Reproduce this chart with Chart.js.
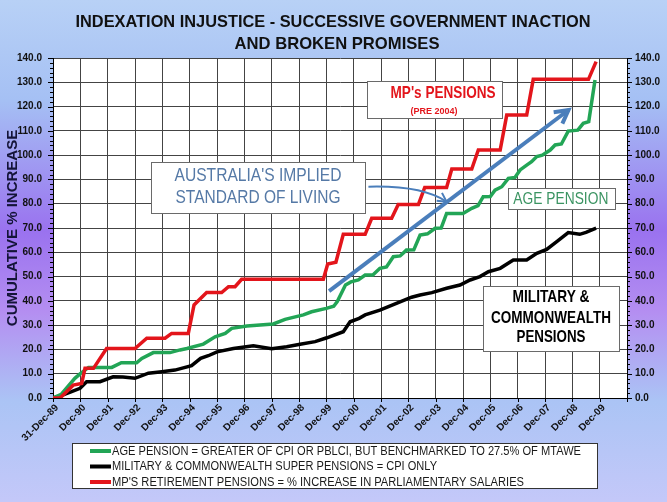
<!DOCTYPE html>
<html>
<head>
<meta charset="utf-8">
<script src="https://cdn.jsdelivr.net/npm/chart.js@4.4.0/dist/chart.umd.min.js"></script>
<style>
  html, body { margin: 0; padding: 0; }
  #wrap {
    width: 667px;
    height: 502px;
    position: relative;
    background: linear-gradient(to bottom, #b8d1f6 0%, #a5c0f4 20%, #9a72ef 46%, #b48ef1 62%, #abc4f5 80%, #c4c8f9 100%);
  }
</style>
</head>
<body>
<div id="wrap"><canvas id="chart"></canvas></div>
<script>
// years since 31-Dec-89 and cumulative % increase
const ageT = [0, 0.3, 0.8, 1.0, 1.3, 2.15, 2.5, 3.06, 3.25, 3.67, 4.28, 4.65, 4.9, 5.5, 5.93, 6.3, 6.54, 7.09, 8.06, 8.49, 9.16, 9.46, 10.0, 10.27, 10.4, 10.7, 10.9, 11.17, 11.42, 11.7, 11.96, 12.2, 12.45, 12.7, 12.93, 13.2, 13.43, 13.7, 13.98, 14.2, 14.4, 15.0, 15.32, 15.55, 15.74, 16.0, 16.17, 16.42, 16.66, 16.9, 17.09, 17.33, 17.51, 17.7, 17.9, 18.19, 18.37, 18.6, 18.85, 19.2, 19.4, 19.6, 19.83];
const ageValues = [0, 1.5, 8.1, 10, 12.6, 12.6, 14.5, 14.5, 16.3, 18.7, 18.7, 19.8, 20.4, 22.2, 25.2, 26.6, 28.7, 29.6, 30.5, 32.4, 34.2, 35.5, 36.9, 37.8, 39.7, 46.5, 47.8, 48.6, 50.6, 50.6, 53.4, 54, 58.2, 58.5, 60.9, 61, 67.1, 67.6, 69.9, 70, 76, 76, 78.1, 79.2, 82.9, 83, 85.6, 87, 90.4, 90.8, 93.9, 95.9, 97.3, 99.4, 100, 102.1, 104.2, 104.6, 109.9, 110.3, 113.1, 113.8, 130.9];

const milT = [0, 0.3, 0.68, 0.99, 1.23, 1.72, 2.2, 2.56, 3.0, 3.49, 3.98, 4.46, 5.07, 5.4, 5.68, 6.0, 6.6, 7.33, 8.0, 8.55, 9.04, 9.59, 10.02, 10.62, 10.87, 11.2, 11.42, 11.96, 12.63, 13.12, 13.43, 13.86, 14.4, 14.89, 15.26, 15.62, 15.93, 16.36, 16.84, 17.33, 17.7, 18.06, 18.43, 18.85, 19.27, 19.5, 19.87];
const milValues = [0, 1, 2.6, 4, 6.7, 6.7, 8.7, 8.6, 8.1, 10.2, 10.8, 11.5, 13.3, 16.3, 17.4, 19, 20.4, 21.5, 20.3, 21.1, 22.1, 23.2, 24.8, 27.3, 31.4, 32.8, 34.2, 36.2, 39.3, 41.5, 42.4, 43.4, 45.2, 46.5, 48.6, 50, 52, 53.4, 56.8, 56.8, 59.6, 61.2, 64.4, 68.1, 67.4, 68.2, 69.9];

const mpT = [0, 0.26, 0.74, 1.05, 1.17, 1.48, 1.96, 3.0, 3.43, 4.1, 4.34, 4.95, 5.16, 5.62, 6.17, 6.42, 6.66, 6.9, 9.89, 10.05, 10.35, 10.62, 11.42, 11.66, 12.39, 12.63, 13.37, 13.6, 14.4, 14.59, 15.32, 15.56, 16.36, 16.6, 17.33, 17.57, 19.59, 19.87];
const mpValues = [0, 0, 5.3, 6, 12.2, 12.2, 20.4, 20.4, 24.6, 24.6, 26.6, 26.6, 38.3, 43.4, 43.4, 45.8, 45.8, 48.9, 48.9, 55.2, 55.9, 67.4, 67.4, 74, 74, 79.7, 79.7, 86.7, 86.7, 94.3, 94.3, 102.1, 102.1, 116.5, 116.5, 131.2, 131.2, 138.5];

const xLabels = ['31-Dec-89', 'Dec-90', 'Dec-91', 'Dec-92', 'Dec-93', 'Dec-94', 'Dec-95', 'Dec-96', 'Dec-97', 'Dec-98', 'Dec-99',
  'Dec-00', 'Dec-01', 'Dec-02', 'Dec-03', 'Dec-04', 'Dec-05', 'Dec-06', 'Dec-07', 'Dec-08', 'Dec-09'];

const seriesNames = [
  'AGE PENSION = GREATER OF CPI OR PBLCI, BUT BENCHMARKED TO 27.5% OF MTAWE',
  'MILITARY & COMMONWEALTH SUPER PENSIONS = CPI ONLY',
  "MP'S RETIREMENT PENSIONS = % INCREASE IN PARLIAMENTARY SALARIES"
];

const GREEN = '#22a556';
const BLACK = '#000000';
const RED = '#e3151b';
const BLUE = '#4a7ebb';
const SANS = "'Liberation Sans', Arial, sans-serif";

function points(ts, vs) {
  const out = [];
  for (let i = 0; i < ts.length; i++) {
    out.push({ x: ts[i], y: vs[i] });
  }
  return out;
}

// no narrow font installed, so squeeze the text to the width it has in the picture
function fitText(ctx, text, x, y, width, align) {
  const w = ctx.measureText(text).width;
  const s = Math.min(1, width / w);
  ctx.save();
  ctx.translate(x, y);
  ctx.scale(s, 1);
  ctx.textAlign = align || 'center';
  ctx.fillText(text, 0, 0);
  ctx.restore();
}

// text boxes, in chart units (years, %)
const notes = [
  { box: [11.48, 130.5, 16.42, 115.4], lines: [
    { text: "MP's PENSIONS", t: 14.27, v: 125.6, w: 105, font: 'bold 17px ' + SANS, color: RED },
    { text: '(PRE 2004)', t: 13.94, v: 118.2, w: 47, font: 'bold 9.5px ' + SANS, color: RED }] },
  { box: [3.59, 97.3, 11.42, 76.3], lines: [
    { text: "AUSTRALIA'S IMPLIED", t: 7.5, v: 91.4, w: 167, font: '17.5px ' + SANS, color: '#5579a6' },
    { text: 'STANDARD OF LIVING', t: 7.5, v: 82.4, w: 165, font: '17.5px ' + SANS, color: '#5579a6' }] },
  { box: [16.66, 86.6, 20.56, 77.8], lines: [
    { text: 'AGE PENSION', t: 18.58, v: 81.8, w: 95, font: '17px ' + SANS, color: '#3b9462' }] },
  { box: [15.72, 46.2, 20.72, 19.5], lines: [
    { text: 'MILITARY &', t: 18.22, v: 41.3, w: 77, font: 'bold 17px ' + SANS, color: '#000' },
    { text: 'COMMONWEALTH', t: 18.22, v: 32.8, w: 120, font: 'bold 17px ' + SANS, color: '#000' },
    { text: 'PENSIONS', t: 18.22, v: 24.8, w: 69, font: 'bold 17px ' + SANS, color: '#000' }] }
];

const legendWidths = [469, 325, 412];

const plotBackground = {
  id: 'plotBackground',
  beforeDraw(chart) {
    const { ctx, chartArea: a } = chart;
    ctx.save();
    ctx.fillStyle = '#ffffff';
    ctx.fillRect(a.left, a.top, a.width, a.height);
    ctx.restore();
  }
};

function chevron(ctx, x0, y0, x1, y1, len) {
  const ang = Math.atan2(y1 - y0, x1 - x0);
  ctx.beginPath();
  ctx.moveTo(x1 - len * Math.cos(ang - 0.5), y1 - len * Math.sin(ang - 0.5));
  ctx.lineTo(x1, y1);
  ctx.lineTo(x1 - len * Math.cos(ang + 0.5), y1 - len * Math.sin(ang + 0.5));
  ctx.stroke();
}

const annotations = {
  id: 'annotations',
  afterDatasetsDraw(chart) {
    const { ctx, scales: { x, y } } = chart;
    ctx.save();

    // straight arrow
    const ax0 = x.getPixelForValue(10.1), ay0 = y.getPixelForValue(44);
    const ax1 = x.getPixelForValue(18.86), ay1 = y.getPixelForValue(118.6);
    ctx.strokeStyle = BLUE;
    ctx.lineWidth = 4;
    ctx.beginPath();
    ctx.moveTo(ax0, ay0);
    ctx.lineTo(ax1, ay1);
    ctx.stroke();
    chevron(ctx, ax0, ay0, ax1, ay1, 15);

    // curved arrow
    const cx0 = x.getPixelForValue(11.54), cy0 = y.getPixelForValue(87.0);
    const cxc = x.getPixelForValue(13.5), cyc = y.getPixelForValue(87.6);
    const cx1 = x.getPixelForValue(14.4), cy1 = y.getPixelForValue(80.8);
    ctx.lineWidth = 2;
    ctx.beginPath();
    ctx.moveTo(cx0, cy0);
    ctx.quadraticCurveTo(cxc, cyc, cx1, cy1);
    ctx.stroke();
    chevron(ctx, cxc, cyc, cx1, cy1, 10);

    // boxes
    notes.forEach(n => {
      const l = Math.round(x.getPixelForValue(n.box[0])) + 0.5;
      const t = Math.round(y.getPixelForValue(n.box[1])) + 0.5;
      const r = Math.round(x.getPixelForValue(n.box[2])) + 0.5;
      const b = Math.round(y.getPixelForValue(n.box[3])) + 0.5;
      ctx.fillStyle = '#ffffff';
      ctx.fillRect(l, t, r - l, b - t);
      ctx.strokeStyle = '#6a6a6a';
      ctx.lineWidth = 1;
      ctx.strokeRect(l, t, r - l, b - t);
      ctx.textBaseline = 'middle';
      n.lines.forEach(s => {
        ctx.font = s.font;
        ctx.fillStyle = s.color;
        fitText(ctx, s.text, x.getPixelForValue(s.t), y.getPixelForValue(s.v), s.w, 'center');
      });
    });
    ctx.restore();
  }
};

const frame = {
  id: 'frame',
  afterDraw(chart) {
    const { ctx, chartArea: a, scales: { x, y } } = chart;
    ctx.save();
    // minor tick marks on both value axes
    ctx.strokeStyle = '#000';
    ctx.lineWidth = 1;
    for (let v = 0; v <= 140; v += 2) {
      const py = Math.round(y.getPixelForValue(v)) + 0.5;
      const len = v % 10 === 0 ? 5 : 3;
      ctx.beginPath();
      ctx.moveTo(a.left - len, py); ctx.lineTo(a.left, py);
      ctx.moveTo(a.right, py); ctx.lineTo(a.right + len, py);
      ctx.stroke();
    }
    for (let i = 0; i <= 21; i++) {
      const px = Math.round(x.getPixelForValue(i)) + 0.5;
      ctx.beginPath();
      ctx.moveTo(px, a.bottom); ctx.lineTo(px, a.bottom + 4);
      ctx.stroke();
    }

    // title
    ctx.fillStyle = '#111';
    ctx.textBaseline = 'middle';
    ctx.font = 'bold 17px ' + SANS;
    fitText(ctx, 'INDEXATION INJUSTICE - SUCCESSIVE GOVERNMENT INACTION', 333, 22, 515, 'center');
    fitText(ctx, 'AND BROKEN PROMISES', 337, 44, 205, 'center');

    // legend
    ctx.fillStyle = '#ffffff';
    ctx.fillRect(72.5, 443.5, 525, 45);
    ctx.strokeStyle = '#333';
    ctx.strokeRect(72.5, 443.5, 525, 45);
    ctx.font = '12.5px ' + SANS;
    chart.data.datasets.forEach((ds, i) => {
      const ry = 451 + i * 15.5;
      ctx.strokeStyle = ds.borderColor;
      ctx.lineWidth = 4;
      ctx.beginPath();
      ctx.moveTo(90, ry); ctx.lineTo(111, ry);
      ctx.stroke();
      ctx.fillStyle = '#1a1a1a';
      fitText(ctx, ds.label, 112, ry + 0.5, legendWidths[i], 'left');
    });
    ctx.restore();
  }
};

new Chart(document.getElementById('chart'), {
  type: 'line',
  data: {
    datasets: [
      { label: seriesNames[0], data: points(ageT, ageValues), borderColor: GREEN, borderWidth: 3.5, pointRadius: 0, order: 2 },
      { label: seriesNames[1], data: points(milT, milValues), borderColor: BLACK, borderWidth: 3.5, pointRadius: 0, order: 3 },
      { label: seriesNames[2], data: points(mpT, mpValues), borderColor: RED, borderWidth: 3.5, pointRadius: 0, order: 1 }
    ]
  },
  options: {
    responsive: true,
    maintainAspectRatio: false,
    animation: false,
    layout: { padding: { top: 58, left: 0, right: 0, bottom: 0 } },
    plugins: { legend: { display: false }, tooltip: { enabled: false } },
    scales: {
      x: {
        type: 'linear',
        min: 0,
        max: 21,
        afterFit(s) { s.height = 104; },
        ticks: {
          stepSize: 1,
          autoSkip: false,
          minRotation: 45,
          maxRotation: 45,
          padding: 4,
          labelOffset: 4,
          color: '#111',
          font: { family: SANS, size: 10, weight: 'bold' },
          callback: v => xLabels[v] !== undefined ? xLabels[v] : ''
        },
        grid: { color: '#444', lineWidth: 1, drawTicks: false },
        border: { color: '#000', width: 1 }
      },
      y: {
        position: 'left',
        min: 0,
        max: 140,
        afterFit(s) { s.width = 53; },
        ticks: {
          stepSize: 10,
          padding: 11,
          color: '#111',
          font: { family: SANS, size: 10, weight: 'bold' },
          callback: v => v.toFixed(1)
        },
        grid: { color: '#444', lineWidth: 1, drawTicks: false },
        border: { color: '#000', width: 1 },
        title: {
          display: true,
          text: 'CUMULATIVE % INCREASE',
          color: '#141438',
          padding: { top: 4, bottom: 0 },
          font: { family: SANS, size: 15, weight: 'bold' }
        }
      },
      y2: {
        position: 'right',
        min: 0,
        max: 140,
        afterFit(s) { s.width = 40; },
        ticks: {
          stepSize: 10,
          padding: 8,
          color: '#111',
          font: { family: SANS, size: 10, weight: 'bold' },
          callback: v => v.toFixed(1)
        },
        grid: { drawOnChartArea: false, drawTicks: false },
        border: { color: '#000', width: 1 }
      }
    }
  },
  plugins: [plotBackground, annotations, frame]
});
</script>
</body>
</html>
